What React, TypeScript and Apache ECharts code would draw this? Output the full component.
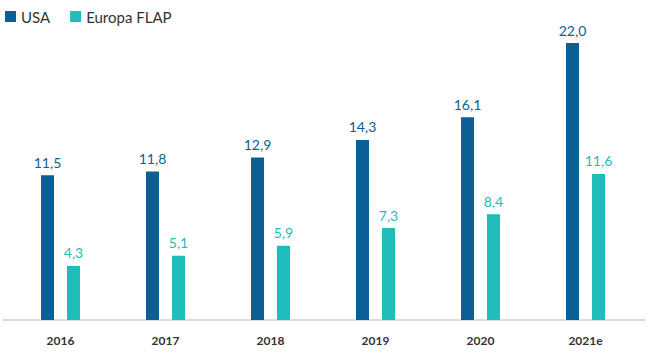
import React, { useEffect, useRef } from "react";
import * as echarts from "echarts";

const categories = ["2016", "2017", "2018", "2019", "2020", "2021e"];
const usaValues = [11.5, 11.8, 12.9, 14.3, 16.1, 22.0];
const europeValues = [4.3, 5.1, 5.9, 7.3, 8.4, 11.6];
const seriesNames = ["USA", "Europa FLAP"];

const BLUE = "#0b5f94";
const TEAL = "#1fbdb9";
const FONT = "Lato, 'Open Sans', sans-serif";

const fmt = (v: number) => v.toFixed(1).replace(".", ",");

export default function App() {
  const ref = useRef<HTMLDivElement>(null);
  useEffect(() => {
    if (!ref.current) return;
    const chart = echarts.init(ref.current, undefined, { renderer: "svg" });
    chart.setOption({
      animation: false,
      legend: {
        left: 0,
        top: 4,
        itemWidth: 11,
        itemHeight: 11,
        icon: "rect",
        itemGap: 20,
        textStyle: { fontFamily: FONT, fontSize: 15, color: "#333" },
        data: seriesNames,
      },
      grid: { left: 8, right: 12, top: 43, bottom: 34, containLabel: false },
      xAxis: {
        type: "category",
        data: categories,
        axisLine: { show: false },
        axisTick: { show: false },
        axisLabel: {
          fontFamily: FONT,
          fontWeight: "bold",
          fontSize: 12,
          color: "#333",
          margin: 14,
        },
      },
      yAxis: {
        type: "value",
        min: 0,
        max: 22,
        show: false,
        splitLine: { show: false },
      },
      graphic: [
        {
          type: "line",
          shape: { x1: 2, y1: 320, x2: 646, y2: 320 },
          style: { stroke: "#b8b8b8", lineWidth: 1 },
        },
      ],
      series: [
        {
          name: seriesNames[0],
          type: "bar",
          data: usaValues,
          barWidth: 13,
          barGap: "100%",
          itemStyle: { color: BLUE },
          label: {
            show: true,
            position: "top",
            distance: 6,
            fontFamily: FONT,
            fontSize: 14,
            color: BLUE,
            formatter: (p: any) => fmt(p.value),
          },
        },
        {
          name: seriesNames[1],
          type: "bar",
          data: europeValues,
          barWidth: 13,
          itemStyle: { color: TEAL },
          label: {
            show: true,
            position: "top",
            distance: 6,
            fontFamily: FONT,
            fontSize: 14,
            color: TEAL,
            formatter: (p: any) => fmt(p.value),
          },
        },
      ],
    });
    return () => chart.dispose();
  }, []);
  return <div ref={ref} style={{ width: 650, height: 354, position: "absolute", left: 0, top: 0 }} />;
}
